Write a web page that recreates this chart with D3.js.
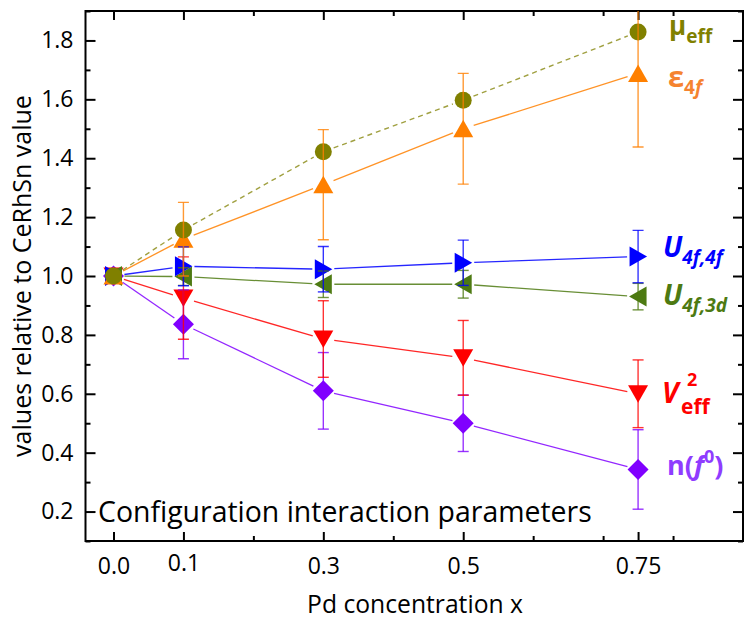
<!DOCTYPE html>
<html><head><meta charset="utf-8">
<script src="https://cdn.jsdelivr.net/npm/d3@7"></script>
<style>
html,body{margin:0;padding:0;background:#fff;}
svg{display:block;font-family:"Open Sans",sans-serif;}
</style></head>
<body><svg id="c" width="747" height="620"></svg>
<script>
// ---- data ----
const xVals = [0, 0.1, 0.3, 0.5, 0.75];
const muEff   = [1.0, 1.156, 1.422, 1.597, 1.829];
const eps4f   = [1.0, 1.125, 1.310, 1.500, 1.688];
const eps4fErr= [0, 0.125, 0.187, 0.188, 0.25];
const u44     = [1.0, 1.033, 1.023, 1.045, 1.066];
const u44Err  = [0, 0.066, 0.077, 0.077, 0.089];
const u43     = [1.0, 0.998, 0.972, 0.972, 0.930];
const u43Err  = [0, 0.03, 0.045, 0.047, 0.045];
const vEff2   = [1.0, 0.925, 0.786, 0.722, 0.600];
const vEff2Err= [0, 0.14, 0.13, 0.127, 0.115];
const nf0     = [1.0, 0.836, 0.610, 0.500, 0.343];
const nf0Err  = [0, 0.117, 0.13, 0.096, 0.135];
const xMajorTicks = [0, 0.1, 0.3, 0.5, 0.75];
const xTickLabels = ["0.0", "0.1", "0.3", "0.5", "0.75"];
const xMinorTicks = [0.2, 0.4, 0.6, 0.7, 0.8];
const yMajorTicks = [0.2, 0.4, 0.6, 0.8, 1.0, 1.2, 1.4, 1.6, 1.8];
const yMinorTicks = [0.1, 0.3, 0.5, 0.7, 0.9, 1.1, 1.3, 1.5, 1.7, 1.9];

const svg = d3.select("#c");
const L = 85.5, R = 743, T = 11, B = 541;
const x = d3.scaleLinear([-0.04, 0.9], [L, R]);
const y = d3.scaleLinear([0.1, 1.9], [B, T]);

function fit(sel, w){ const n = sel.node(); const fs = parseFloat(sel.attr("font-size")); const len = n.getComputedTextLength(); sel.attr("font-size", fs * w / len); }

// axes
function styleAxis(g){ g.select(".domain").remove(); g.selectAll("line").attr("stroke","#000").attr("stroke-width",2); g.selectAll("text").attr("fill","#000").attr("font-family","Open Sans").attr("font-size",23); }
svg.append("g").attr("transform",`translate(0,${B})`)
  .call(d3.axisBottom(x).tickValues(xMajorTicks).tickSize(-9).tickPadding(17).tickFormat((d,i)=>xTickLabels[i])).call(styleAxis)
  .selectAll(".tick text").attr("dy", (d)=> d===0.1 ? "0.57em" : "0.71em");
svg.append("g").attr("transform",`translate(0,${B})`).call(d3.axisBottom(x).tickValues(xMinorTicks).tickSize(-5).tickFormat("")).call(styleAxis);
svg.append("g").attr("transform",`translate(0,${T})`).call(d3.axisTop(x).tickValues(xMajorTicks).tickSize(-9).tickFormat("")).call(styleAxis);
svg.append("g").attr("transform",`translate(0,${T})`).call(d3.axisTop(x).tickValues(xMinorTicks).tickSize(-5).tickFormat("")).call(styleAxis);
svg.append("g").attr("transform",`translate(${L},0)`)
  .call(d3.axisLeft(y).tickValues(yMajorTicks).tickSize(-10).tickPadding(12).tickFormat(d3.format(".1f"))).call(styleAxis);
svg.append("g").attr("transform",`translate(${L},0)`).call(d3.axisLeft(y).tickValues(yMinorTicks).tickSize(-5).tickFormat("")).call(styleAxis);
svg.append("g").attr("transform",`translate(${R},0)`).call(d3.axisRight(y).tickValues(yMajorTicks).tickSize(-10).tickFormat("")).call(styleAxis);
svg.append("g").attr("transform",`translate(${R},0)`).call(d3.axisRight(y).tickValues(yMinorTicks).tickSize(-5).tickFormat("")).call(styleAxis);
svg.append("rect").attr("x",L).attr("y",T).attr("width",R-L).attr("height",B-T).attr("fill","none").attr("stroke","#000").attr("stroke-width",2);

// axis titles
const xt = svg.append("text").attr("x",(307+523)/2).attr("y",613).attr("text-anchor","middle").attr("font-size",20).text("Pd concentration x");
fit(xt, 216);
const yt = svg.append("text").attr("transform","translate(31,276) rotate(-90)").attr("text-anchor","middle").attr("font-size",20).text("values relative to CeRhSn value");
fit(yt, 362);
const ct = svg.append("text").attr("x",98).attr("y",522).attr("font-size",26).text("Configuration interaction parameters");
fit(ct, 494);

// markers
const shapes = {
  circle: "M0,-8.5A8.5,8.5 0 1,1 0,8.5A8.5,8.5 0 1,1 0,-8.5Z",
  up: "M0,-9L10,8.5L-10,8.5Z",
  down: "M0,9L10,-8.5L-10,-8.5Z",
  right: "M9,0L-8.5,10L-8.5,-10Z",
  left: "M-9,0L8.5,10L8.5,-10Z",
  diamond: "M0,-10.5L10.5,0L0,10.5L-10.5,0Z"
};
const series = [
  {vals:nf0, err:nf0Err, color:"#8000ff", shape:"diamond"},
  {vals:vEff2, err:vEff2Err, color:"#ff0000", shape:"down"},
  {vals:u43, err:u43Err, color:"#4d7a12", shape:"left"},
  {vals:u44, err:u44Err, color:"#0000ff", shape:"right"},
  {vals:eps4f, err:eps4fErr, color:"#ff8000", shape:"up"},
  {vals:muEff, err:null, color:"#808000", shape:"circle", dash:"5,4"}
];
const gap = 11;
svg.append("clipPath").attr("id","pc").append("rect").attr("x",L).attr("y",T).attr("width",R-L).attr("height",B-T);
const lines = svg.append("g").attr("clip-path","url(#pc)");
series.forEach(s=>{
  const pts = xVals.map((xv,i)=>[x(xv), y(s.vals[i])]);
  for(let i=0;i<pts.length-1;i++){
    const [x1,y1]=pts[i],[x2,y2]=pts[i+1];
    const dx=x2-x1, dy=y2-y1, d=Math.hypot(dx,dy);
    if(d<2*gap) continue;
    const ux=dx/d, uy=dy/d;
    lines.append("line").attr("x1",x1+ux*gap).attr("y1",y1+uy*gap).attr("x2",x2-ux*gap).attr("y2",y2-uy*gap)
      .attr("stroke",s.color).attr("stroke-width",s.dash?1.4:1.3).attr("stroke-opacity",s.dash?0.75:0.85)
      .attr("stroke-dasharray",s.dash||null);
  }
});
const marks = svg.append("g");
series.forEach(s=>{
  marks.selectAll(null).data(xVals.map((xv,i)=>({x:xv,v:s.vals[i]}))).join("path")
    .attr("d",shapes[s.shape]).attr("transform",d=>`translate(${x(d.x)},${y(d.v)})`).attr("fill",s.color);
});
const errs = svg.append("g").attr("clip-path","url(#pc)");
series.forEach(s=>{
  if(!s.err) return;
  xVals.forEach((xv,i)=>{
    const e=s.err[i]; if(!e) return;
    const cx=x(xv), yt=y(s.vals[i]+e), yb=y(s.vals[i]-e);
    const g=errs.append("g").attr("stroke",s.color).attr("stroke-width",1.4).attr("stroke-opacity",0.8);
    g.append("line").attr("x1",cx).attr("x2",cx).attr("y1",yt).attr("y2",yb);
    g.append("line").attr("x1",cx-5.5).attr("x2",cx+5.5).attr("y1",yt).attr("y2",yt);
    g.append("line").attr("x1",cx-5.5).attr("x2",cx+5.5).attr("y1",yb).attr("y2",yb);
  });
});

// series labels
function lab(xp, yp, color, parts){
  const t = svg.append("text").attr("x",xp).attr("y",yp).attr("fill",color).attr("font-weight","bold").attr("font-family","Open Sans");
  parts.forEach(p=>{ const s=t.append("tspan").attr("font-size",p.fs).attr("font-style",p.it?"italic":null).text(p.t);
    if(p.x!==undefined) s.attr("x",p.x); if(p.y!==undefined) s.attr("y",p.y); if(p.dy) s.attr("dy",p.dy); });
  return t;
}
lab(669,35,"#808000",[{t:"μ",fs:26},{t:"eff",fs:19,y:43}]);
lab(668,87,"#f5832f",[{t:"ε",fs:29},{t:"4",fs:19,y:94},{t:"f",fs:19,it:true}]);
lab(663,257,"#0000ff",[{t:"U",fs:28,it:true},{t:"4f,4f",fs:19,it:true,y:264}]);
lab(663,305,"#4d7a12",[{t:"U",fs:28,it:true},{t:"4f,3d",fs:19,it:true,y:312}]);
lab(662,403,"#ff0000",[{t:"V",fs:28,it:true},{t:"eff",fs:21,x:681,y:414}]);
lab(687,386,"#ff0000",[{t:"2",fs:18}]);
lab(667,475,"#8f3cff",[{t:"n(",fs:27},{t:"f",fs:27,it:true},{t:"0",fs:18,y:463},{t:")",fs:27,y:475}]);
</script></body></html>
